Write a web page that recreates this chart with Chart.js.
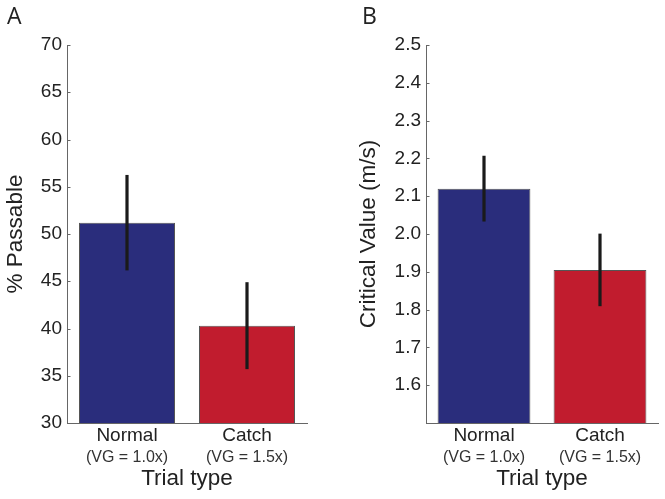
<!DOCTYPE html>
<html>
<head>
<meta charset="utf-8">
<script src="https://cdn.jsdelivr.net/npm/chart.js@4"></script>
<style>
  html, body { margin:0; padding:0; background:#fff; }
  #wrap { position:relative; width:665px; height:499px; overflow:hidden; }
  .pane { position:absolute; top:0; height:499px; }
  canvas { display:block; }
</style>
</head>
<body>
<div id="wrap">
  <div class="pane" style="left:0;width:332px;"><canvas id="cA" width="332" height="499"></canvas></div>
  <div class="pane" style="left:332px;width:333px;"><canvas id="cB" width="333" height="499"></canvas></div>
</div>
<script>
const categories = ["Normal", "Catch"];
const subLabels = ["(VG = 1.0x)", "(VG = 1.5x)"];
const passableMeans = [51.2, 40.3];
const passableErr = [5.05, 4.6];
const criticalMeans = [2.12, 1.905];
const criticalErr = [0.087, 0.096];
const barColors = ["#2a2d7c", "#c11c2e"];
const FONT = "'Liberation Sans', Arial, Helvetica, sans-serif";
const TEXT = "#222";
const AXIS = "#666";

const overlay = {
  id: 'overlay',
  afterDatasetsDraw(chart, args, opts) {
    const ctx = chart.ctx;
    const x = chart.scales.x, y = chart.scales.y;
    const ds = chart.data.datasets[0];
    ctx.save();
    // error bars
    ctx.strokeStyle = '#1a1a1a';
    ctx.lineWidth = 3.2;
    ds.data.forEach((v, i) => {
      const e = opts.err[i];
      const px = x.getPixelForValue(i);
      ctx.beginPath();
      ctx.moveTo(px, y.getPixelForValue(v + e));
      ctx.lineTo(px, y.getPixelForValue(v - e));
      ctx.stroke();
    });
    // inward y ticks
    ctx.strokeStyle = AXIS;
    ctx.lineWidth = 1;
    y.ticks.forEach(t => {
      const py = Math.round(y.getPixelForValue(t.value)) + 0.5;
      ctx.beginPath();
      ctx.moveTo(chart.chartArea.left, py);
      ctx.lineTo(chart.chartArea.left + 3.5, py);
      ctx.stroke();
    });
    // sub labels
    ctx.fillStyle = '#333';
    ctx.font = "16px " + FONT;
    ctx.textAlign = 'center';
    ctx.textBaseline = 'middle';
    subLabels.forEach((s, i) => {
      ctx.fillText(s, x.getPixelForValue(i), 457.5);
    });
    // panel letter
    ctx.fillStyle = TEXT;
    ctx.font = "23px 'Open Sans', " + FONT;
    ctx.textAlign = 'left';
    ctx.textBaseline = 'alphabetic';
    ctx.fillText(opts.letter, opts.letterX, 23.5);
    ctx.restore();
  }
};

function makeChart(id, means, err, yTitle, yMin, yMax, step, yWidth, padLeft, padRight, titlePad, letter, letterX, fmt) {
  return new Chart(document.getElementById(id), {
    type: 'bar',
    data: {
      labels: categories,
      datasets: [{
        data: means,
        backgroundColor: barColors,
        borderColor: '#555',
        borderWidth: 1,
        borderSkipped: false,
        categoryPercentage: 0.8,
        barPercentage: 1.0
      }]
    },
    options: {
      responsive: false,
      animation: false,
      devicePixelRatio: 1,
      layout: { padding: { top: 45, left: padLeft, right: padRight, bottom: 0 } },
      plugins: {
        legend: { display: false },
        tooltip: { enabled: false },
        overlay: { err: err, letter: letter, letterX: letterX }
      },
      scales: {
        x: {
          grid: { display: false, drawTicks: false },
          border: { display: true, color: AXIS, width: 1 },
          ticks: { color: TEXT, font: { family: FONT, size: 19 }, padding: 1, maxRotation: 0 },
          title: { display: true, text: 'Trial type', color: TEXT, font: { family: FONT, size: 22.5 }, padding: { top: 0, bottom: 7 } },
          afterFit(s) { s.height = 76; }
        },
        y: {
          min: yMin, max: yMax,
          grid: { display: false, drawTicks: false },
          border: { display: true, color: AXIS, width: 1 },
          ticks: { stepSize: step, color: TEXT, font: { family: FONT, size: 19 }, padding: 5, callback: fmt },
          title: { display: true, text: yTitle, color: TEXT, font: { family: FONT, size: 22.5 }, padding: { top: titlePad, bottom: 0 } },
          afterFit(s) { s.width = yWidth; }
        }
      }
    },
    plugins: [overlay]
  });
}

makeChart('cA', passableMeans, passableErr, '% Passable', 30, 70, 5, 67, 0, 25, 2, 'A', 7,
  v => String(Math.round(v)));
makeChart('cB', criticalMeans, criticalErr, 'Critical Value (m/s)', 1.5, 2.5, 0.1, 71, 23, 7, 0, 'B', 30,
  v => (v < 1.55 ? '' : v.toFixed(1)));
</script>
</body>
</html>
